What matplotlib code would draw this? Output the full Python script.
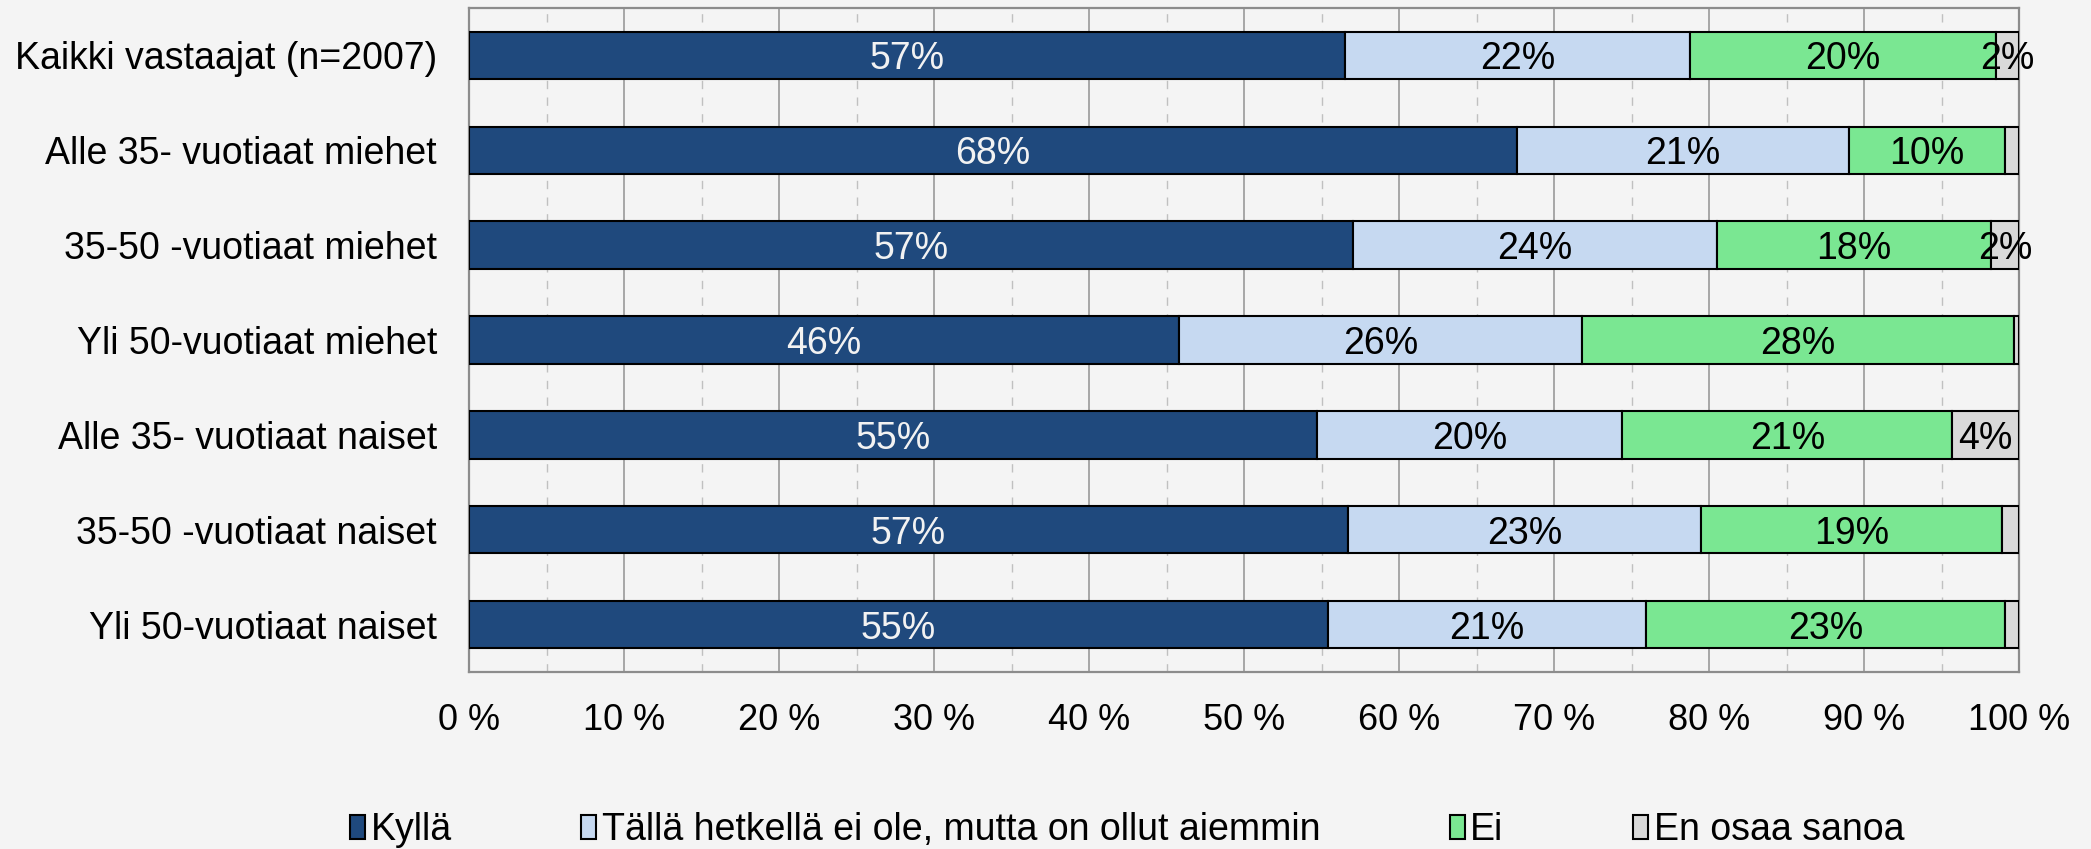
import matplotlib
matplotlib.use("Agg")
import matplotlib.pyplot as plt
import numpy as np
from matplotlib.ticker import MultipleLocator

categories = ["Kaikki vastaajat (n=2007)", "Alle 35- vuotiaat miehet", "35-50 -vuotiaat miehet",
              "Yli 50-vuotiaat miehet", "Alle 35- vuotiaat naiset", "35-50 -vuotiaat naiset",
              "Yli 50-vuotiaat naiset"]
series_names = ["Kyllä", "Tällä hetkellä ei ole, mutta on ollut aiemmin", "Ei", "En osaa sanoa"]
kylla = [56.5, 67.6, 57.0, 45.8, 54.7, 56.7, 55.4]
aiemmin = [22.3, 21.4, 23.5, 26.0, 19.7, 22.8, 20.5]
ei = [19.7, 10.1, 17.7, 27.9, 21.3, 19.4, 23.2]
eos = [1.5, 0.9, 1.8, 0.3, 4.3, 1.1, 0.9]
labels_kylla = ["57%", "68%", "57%", "46%", "55%", "57%", "55%"]
labels_aiemmin = ["22%", "21%", "24%", "26%", "20%", "23%", "21%"]
labels_ei = ["20%", "10%", "18%", "28%", "21%", "19%", "23%"]
labels_eos = ["2%", "", "2%", "", "4%", "", ""]
xticklabels = ["0 %", "10 %", "20 %", "30 %", "40 %", "50 %", "60 %", "70 %", "80 %", "90 %", "100 %"]

colors = ["#1F497D", "#C6D9F1", "#7AE792", "#D9D9D9"]
text_colors = ["#F2F2F2", "black", "black", "black"]

plt.rcParams['font.family'] = ['Liberation Sans', 'DejaVu Sans']
bg = "#F4F4F4"
fig = plt.figure(figsize=(20.91, 8.49), dpi=100, facecolor=bg)
ax = fig.add_axes([0.2243, 0.2085, 0.9656 - 0.2243, 0.9906 - 0.2085], facecolor=bg)

y = np.arange(len(categories))
data = [kylla, aiemmin, ei, eos]
labs = [labels_kylla, labels_aiemmin, labels_ei, labels_eos]
left = np.zeros(len(categories))
for vals, lab, c, tc, name in zip(data, labs, colors, text_colors, series_names):
    vals = np.array(vals)
    ax.barh(y, vals, left=left, height=0.5, color=c, edgecolor="black",
            linewidth=1.5, label=name, zorder=3)
    for yi, (l, v, t) in enumerate(zip(left, vals, lab)):
        if t:
            ax.text(l + v / 2, yi, t, ha="center", va="center_baseline", fontsize=27,
                    color=tc, zorder=4)
    left = left + vals

ax.set_xlim(0, 100)
ax.set_ylim(len(categories) - 0.5, -0.5)
ax.set_yticks(y)
ax.set_yticklabels(categories, fontsize=27)
ax.xaxis.set_minor_locator(MultipleLocator(5))
ax.set_xticks(np.arange(0, 101, 10))
ax.set_xticklabels(xticklabels, fontsize=26)
ax.tick_params(axis="both", length=0, which="both")
ax.tick_params(axis="x", pad=22)
ax.tick_params(axis="y", pad=23)
ax.grid(axis="x", which="major", color="#A0A0A0", linewidth=1.3, zorder=0)
ax.grid(axis="x", which="minor", color="#C0C0C0", linewidth=1.0, linestyle=(0, (6, 6)), zorder=0)
for s in ax.spines.values():
    s.set_color("#8C8C8C")
    s.set_linewidth(1.6)

leg = fig.legend(loc="center", bbox_to_anchor=(0.539, 0.022), ncol=4, frameon=False,
                 fontsize=27, handlelength=0.4, handleheight=0.6, handletextpad=0.15,
                 columnspacing=3.45)
for h in leg.legend_handles:
    h.set_linewidth(1.5)

fig.savefig("out.png", dpi=100, facecolor=bg)
